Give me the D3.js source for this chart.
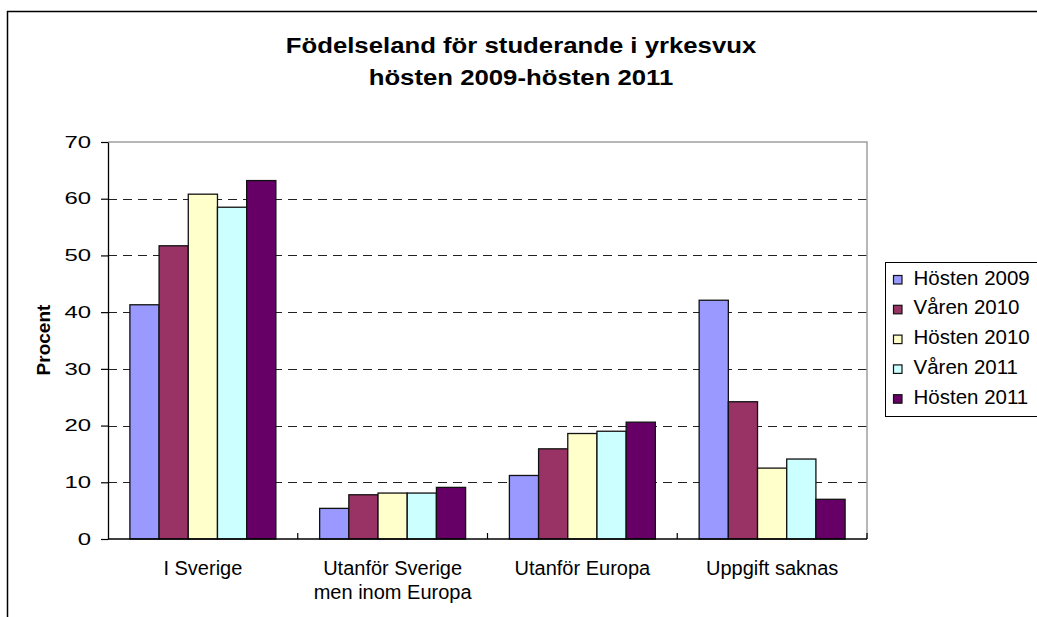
<!DOCTYPE html>
<html>
<head>
<meta charset="utf-8">
<script src="https://cdn.jsdelivr.net/npm/d3@7"></script>
<style>
  body { margin: 0; background: #fff; }
  text { font-family: "Liberation Sans", Arial, sans-serif; fill: #000; }
</style>
</head>
<body>
<svg id="chart" width="1037" height="617"></svg>
<script>
const categories = ["I Sverige", "Utanför Sverige\nmen inom Europa", "Utanför Europa", "Uppgift saknas"];
const seriesNames = ["Hösten 2009", "Våren 2010", "Hösten 2010", "Våren 2011", "Hösten 2011"];
const seriesColors = ["#9999ff", "#993366", "#ffffcc", "#ccffff", "#660066"];
const hosten2009 = [41.3, 5.4, 11.2, 42.1];
const varen2010 = [51.7, 7.8, 15.9, 24.2];
const hosten2010 = [60.8, 8.1, 18.6, 12.5];
const varen2011 = [58.5, 8.1, 19.0, 14.1];
const hosten2011 = [63.2, 9.1, 20.6, 7.0];
const yTicks = [0, 10, 20, 30, 40, 50, 60, 70];
const titleLines = ["Födelseland för studerande i yrkesvux", "hösten 2009-hösten 2011"];
const yLabel = "Procent";

const seriesValues = [hosten2009, varen2010, hosten2010, varen2011, hosten2011];

const svg = d3.select("#chart");

// outer chart frame
svg.append("rect")
    .attr("x", 7.5)
    .attr("y", 11.5)
    .attr("width", 1100)
    .attr("height", 700)
    .attr("fill", "#fff")
    .attr("stroke", "#000")
    .attr("stroke-width", 1.5);

const plot = { left: 108, right: 867, top: 142, bottom: 539 };

const x0 = d3.scaleBand()
    .domain(categories)
    .range([plot.left, plot.right]);

const x1 = d3.scaleBand()
    .domain(seriesNames)
    .range([0, x0.bandwidth()])
    .paddingInner(0)
    .paddingOuter(0.75);

const y = d3.scaleLinear()
    .domain([0, 70])
    .range([plot.bottom, plot.top]);

// dashed gridlines
svg.append("g")
    .selectAll("line")
    .data(yTicks.filter(t => t > 0 && t < 70))
    .join("line")
    .attr("x1", plot.left)
    .attr("x2", plot.right)
    .attr("y1", d => Math.round(y(d)) + 0.5)
    .attr("y2", d => Math.round(y(d)) + 0.5)
    .attr("stroke", "#222")
    .attr("stroke-width", 1)
    .attr("stroke-dasharray", "9,6");

// plot area border (top and right in gray)
svg.append("path")
    .attr("d", `M${plot.left},${plot.top}H${plot.right}V${plot.bottom}`)
    .attr("fill", "none")
    .attr("stroke", "#a0a0a0")
    .attr("stroke-width", 1.5);

// bars
const groups = svg.append("g")
    .selectAll("g")
    .data(categories)
    .join("g")
    .attr("transform", d => `translate(${x0(d)},0)`);

groups.selectAll("rect")
    .data((c, ci) => seriesNames.map((s, si) => ({ s, si, v: seriesValues[si][ci] })))
    .join("rect")
    .attr("x", d => x1(d.s))
    .attr("y", d => y(d.v))
    .attr("width", x1.bandwidth())
    .attr("height", d => y(0) - y(d.v))
    .attr("fill", d => seriesColors[d.si])
    .attr("stroke", "#111")
    .attr("stroke-width", 1.3);

// y axis
const yAxis = svg.append("g")
    .attr("transform", `translate(${plot.left},0)`)
    .call(d3.axisLeft(y).tickValues(yTicks).tickSize(7).tickPadding(10).tickSizeOuter(0));

yAxis.select(".domain").attr("stroke", "#000").attr("stroke-width", 1.3);
yAxis.selectAll(".tick line").attr("stroke", "#000").attr("stroke-width", 1.2);
yAxis.selectAll(".tick text")
    .attr("font-size", 16.5)
    .attr("font-family", "Liberation Sans, Arial, sans-serif")
    .attr("x", -17 / 1.45)
    .attr("transform", "scale(1.45,1)");

// x axis line and category ticks
svg.append("line")
    .attr("x1", plot.left)
    .attr("x2", plot.right)
    .attr("y1", y(0))
    .attr("y2", y(0))
    .attr("stroke", "#000")
    .attr("stroke-width", 1.3);

const boundaries = categories.slice(1).map(c => x0(c)).concat([x0.range()[1]]);
svg.append("g")
    .selectAll("line")
    .data(boundaries)
    .join("line")
    .attr("x1", d => d)
    .attr("x2", d => d)
    .attr("y1", y(0))
    .attr("y2", y(0) - 6)
    .attr("stroke", "#000")
    .attr("stroke-width", 1.2);

// category labels
const xLabels = svg.append("g")
    .selectAll("text")
    .data(categories)
    .join("text")
    .attr("x", d => x0(d) + x0.bandwidth() / 2)
    .attr("y", 575)
    .attr("text-anchor", "middle")
    .attr("font-size", 20);

xLabels.selectAll("tspan")
    .data(d => d.split("\n"))
    .join("tspan")
    .attr("x", function() { return this.parentNode.getAttribute("x"); })
    .attr("dy", (d, i) => i === 0 ? 0 : 24)
    .text(d => d);

// y axis title
svg.append("text")
    .attr("transform", "translate(50,340) rotate(-90)")
    .attr("text-anchor", "middle")
    .attr("font-size", 19)
    .attr("font-weight", "bold")
    .text(yLabel);

// chart title
titleLines.forEach((line, i) => {
    svg.append("text")
        .attr("transform", `translate(521,${53 + i * 32}) scale(1.17,1)`)
        .attr("text-anchor", "middle")
        .attr("font-size", 22)
        .attr("font-weight", "bold")
        .text(line);
});

// legend
const legend = svg.append("g");
legend.append("rect")
    .attr("x", 885.5)
    .attr("y", 262.5)
    .attr("width", 200)
    .attr("height", 154)
    .attr("fill", "#fff")
    .attr("stroke", "#000")
    .attr("stroke-width", 1);

const legendRows = legend.selectAll("g.row")
    .data(seriesNames)
    .join("g")
    .attr("class", "row")
    .attr("transform", (d, i) => `translate(893.5,${275.5 + i * 29.8})`);

legendRows.append("rect")
    .attr("width", 8.5)
    .attr("height", 8.5)
    .attr("fill", (d, i) => seriesColors[i])
    .attr("stroke", "#111")
    .attr("stroke-width", 1.2);

legendRows.append("text")
    .attr("x", 20)
    .attr("y", 9)
    .attr("font-size", 20.5)
    .text(d => d);
</script>
</body>
</html>
